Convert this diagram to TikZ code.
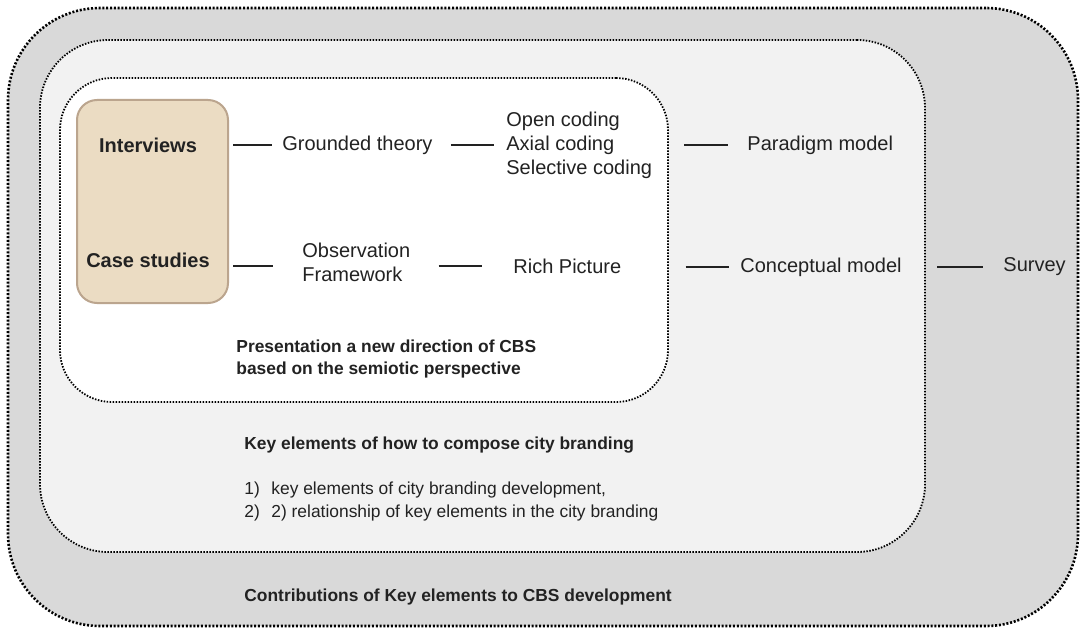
\documentclass[tikz,border=0pt]{standalone}
\usepackage{fontspec}
\setmainfont{Liberation Sans}
\usetikzlibrary{positioning,calc}
\definecolor{zoneout}{HTML}{D9D9D9}
\definecolor{zonemid}{HTML}{F2F2F2}
\definecolor{tanfill}{HTML}{EBDCC3}
\definecolor{tanedge}{HTML}{BBA58E}
\definecolor{ink}{HTML}{222222}
\tikzset{
  fig/.style={font=\fontsize{10}{12}\selectfont,text=ink},
  zone/.style={draw=black,dash pattern=on 0.75pt off 0.75pt,line width=0.9pt,inner sep=0pt},
  outzone/.style={zone,fill=zoneout,rounded corners=46pt,line width=1.3pt,
                  dash pattern=on 1pt off 0.9pt},
  midzone/.style={zone,fill=zonemid,rounded corners=34pt},
  innzone/.style={zone,fill=white,rounded corners=26pt},
  srcbox/.style={draw=tanedge,fill=tanfill,line width=1pt,rounded corners=10pt,inner sep=0pt},
  hd/.style={font=\fontsize{10}{12}\selectfont\bfseries,inner sep=0pt},
  txt/.style={font=\fontsize{10}{12}\selectfont,inner sep=0pt,align=left,anchor=west},
  note/.style={font=\fontsize{8.7}{11}\selectfont\bfseries,inner sep=0pt,align=left,anchor=west},
  item/.style={font=\fontsize{8.7}{11.5}\selectfont,inner sep=0pt,align=left,anchor=west},
  ln/.style={line width=0.6pt,draw=ink},
}

\begin{document}
\begin{tikzpicture}[fig,x=0.5pt,y=-0.5pt]
\useasboundingbox (0,0) rectangle (1080,631);

% Nested zones
\node[outzone,minimum width=535pt,minimum height=309pt] (outer) at (543,317) {};
\node[midzone,minimum width=442.5pt,minimum height=256pt] (mid) at (482.5,296) {};
\node[innzone,minimum width=304pt,minimum height=162pt] (inn) at (364,240) {};

% Sources
\node[srcbox,minimum width=75.5pt,minimum height=101.5pt] (src) at (152.5,201.5) {};
\node[hd] (int) at (148,145) {Interviews};
\node[hd] (cs) at (148,260) {Case studies};

% Row 1: interviews
\node[txt] (gt) at (282,145) {Grounded theory};
\node[txt] (cod) at (506,145) {Open coding\\Axial coding\\Selective coding};
\node[txt] (pm) at (747,145) {Paradigm model};
\draw[ln,shorten <=2pt,shorten >=5pt] (src.east |- gt) -- (gt.west);
\draw[ln,shorten <=9pt,shorten >=6pt] (gt.east) -- (cod.west |- gt);
\draw[ln,shorten <=16pt,shorten >=9.5pt] (cod.east |- gt) -- (pm.west);

% Row 2: case studies
\node[txt] (obs) at (302,262) {Observation\\Framework};
\node[txt] (rp) at (513,266) {Rich Picture};
\node[txt] (cm) at (740,267) {Conceptual model};
\node[txt] (sv) at (1003,267) {Survey};
\draw[ln,shorten <=2pt,shorten >=14.5pt] (src.east |- rp) -- (obs.west |- rp);
\draw[ln,shorten <=14pt,shorten >=15.5pt] (obs.east |- rp) -- (rp.west);
\draw[ln,shorten <=32pt,shorten >=5.5pt] (rp.east |- cm) -- (cm.west);
\draw[ln,shorten <=17.5pt,shorten >=10pt] (cm.east) -- (sv.west);

% Zone captions
\node[note] (pres) at (236,359) {Presentation a new direction of CBS\\based on the semiotic perspective};
\node[note] (key) at (244,445) {Key elements of how to compose city branding};
\node[item] (lst) at (244,501.5) {\makebox[13.5pt][l]{1)}key elements of city branding development,\\
  \makebox[13.5pt][l]{2)}2) relationship of key elements in the city branding};
\node[note] (con) at (244,597) {Contributions of Key elements to CBS development};

\end{tikzpicture}
\end{document}
